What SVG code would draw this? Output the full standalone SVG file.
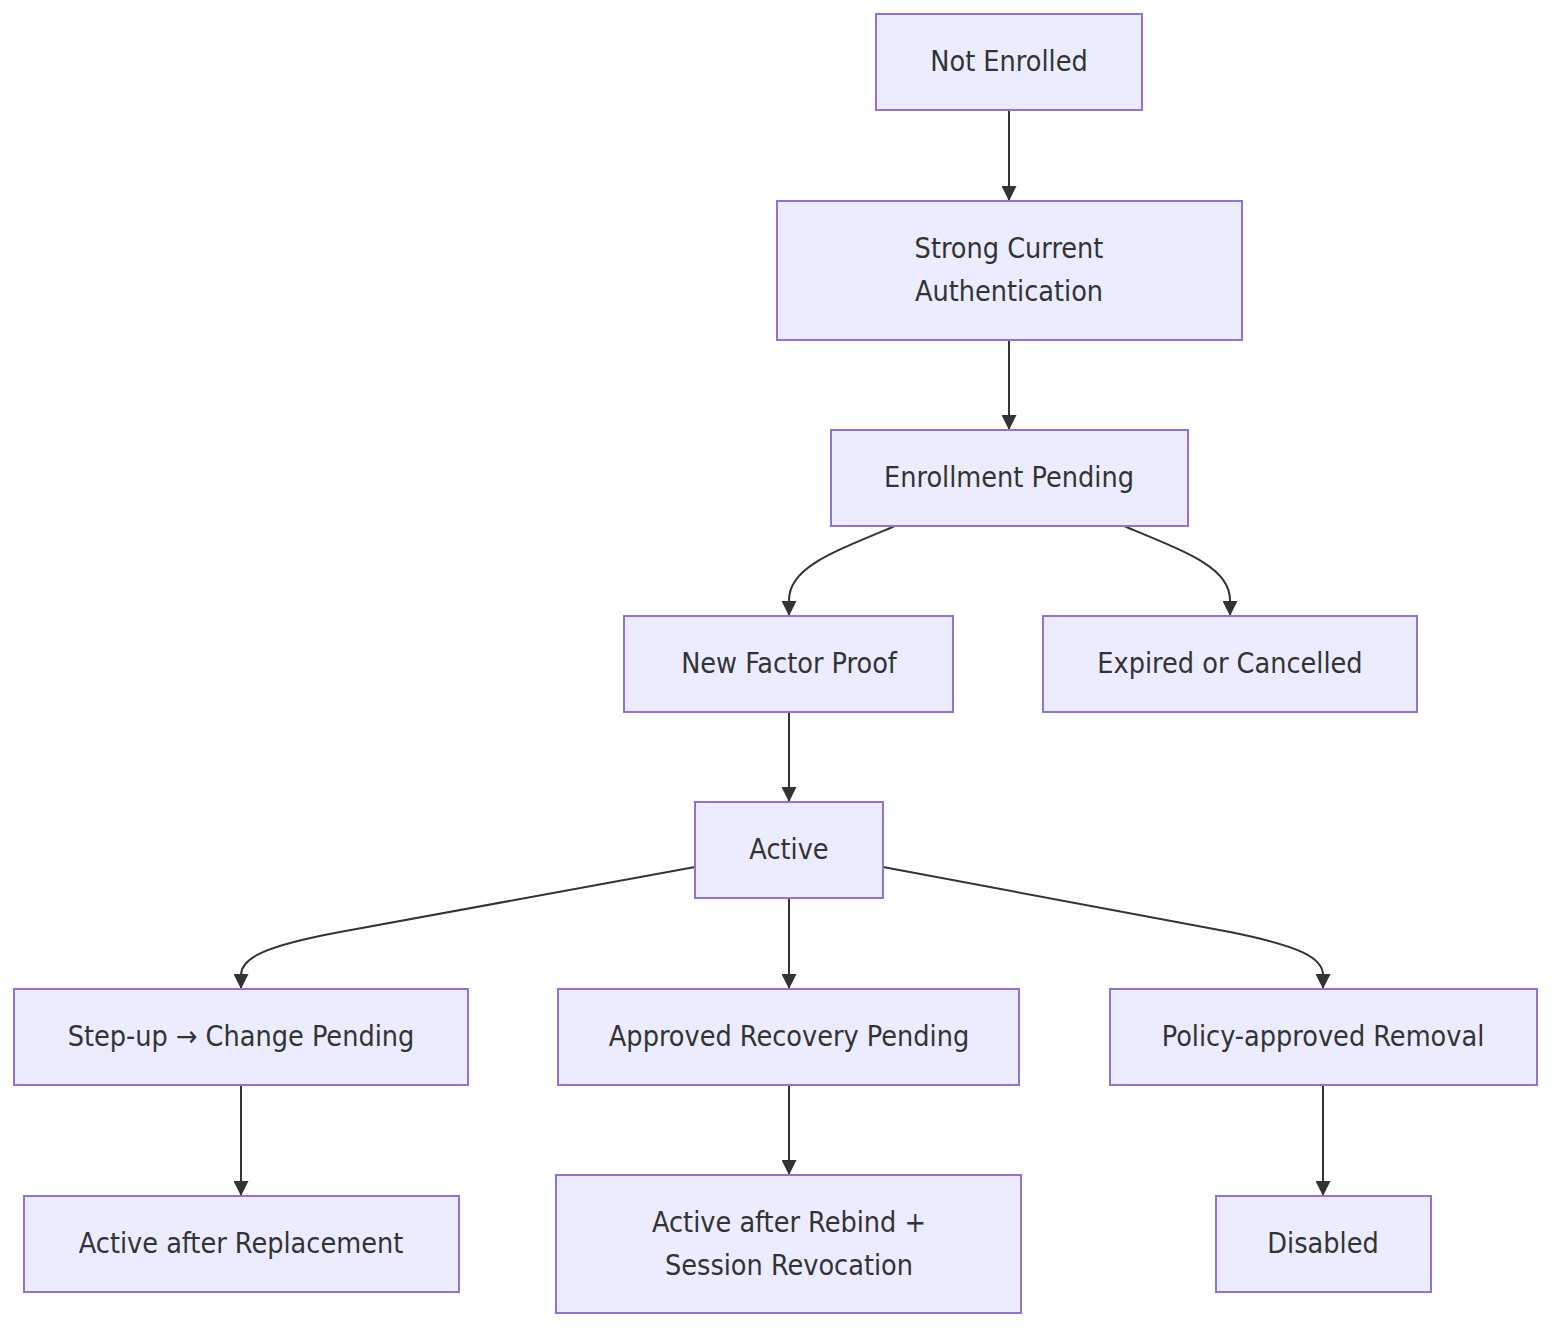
<svg xmlns="http://www.w3.org/2000/svg" width="1568" height="1344" viewBox="0 0 1568 1344">
<style>
.node rect{fill:#ECECFF;stroke:#9370DB;stroke-width:2}
.node text{font-family:"DejaVu Sans Condensed","DejaVu Sans",sans-serif;font-stretch:condensed;font-size:28.5px;fill:#333;text-anchor:middle;dominant-baseline:central}
.edge{fill:none;stroke:#333;stroke-width:2;marker-end:url(#arr)}
</style>
<defs>
<marker id="arr" markerUnits="userSpaceOnUse" markerWidth="15" markerHeight="15" refX="15" refY="7.5" orient="auto">
<path d="M0,0 L15,7.5 L0,15 z" fill="#333"/>
</marker>
</defs>
<rect width="1568" height="1344" fill="#fff"/>
<g id="edges">
<path class="edge" d="M1009,110 L1009,201"/>
<path class="edge" d="M1009,340 L1009,430"/>
<path class="edge" d="M895,526 C830,553 789,568 789,600 L789,616"/>
<path class="edge" d="M1124,526 C1189,553 1230,568 1230,600 L1230,616"/>
<path class="edge" d="M789,712 L789,802"/>
<path class="edge" d="M695,867 L340,932 C265,946 241,958 241,975 L241,989"/>
<path class="edge" d="M789,898 L789,989"/>
<path class="edge" d="M883,867 L1230,932 C1300,946 1323,958 1323,975 L1323,989"/>
<path class="edge" d="M241,1085 L241,1196"/>
<path class="edge" d="M789,1085 L789,1175"/>
<path class="edge" d="M1323,1085 L1323,1196"/>
</g>
<g id="n1" class="node"><rect x="876" y="14" width="266" height="96"/><text x="1009" y="61">Not Enrolled</text></g>
<g id="n2" class="node"><rect x="777" y="201" width="465" height="139"/><text x="1009" y="248">Strong Current</text><text x="1009" y="291">Authentication</text></g>
<g id="n3" class="node"><rect x="831" y="430" width="357" height="96"/><text x="1009" y="477">Enrollment Pending</text></g>
<g id="n4" class="node"><rect x="624" y="616" width="329" height="96"/><text x="789" y="663">New Factor Proof</text></g>
<g id="n5" class="node"><rect x="1043" y="616" width="374" height="96"/><text x="1230" y="663">Expired or Cancelled</text></g>
<g id="n6" class="node"><rect x="695" y="802" width="188" height="96"/><text x="789" y="849">Active</text></g>
<g id="n7" class="node"><rect x="14" y="989" width="454" height="96"/><text x="241" y="1036">Step-up → Change Pending</text></g>
<g id="n8" class="node"><rect x="558" y="989" width="461" height="96"/><text x="789" y="1036">Approved Recovery Pending</text></g>
<g id="n9" class="node"><rect x="1110" y="989" width="427" height="96"/><text x="1323" y="1036">Policy-approved Removal</text></g>
<g id="n10" class="node"><rect x="24" y="1196" width="435" height="96"/><text x="241" y="1243">Active after Replacement</text></g>
<g id="n11" class="node"><rect x="556" y="1175" width="465" height="138"/><text x="789" y="1222">Active after Rebind +</text><text x="789" y="1265">Session Revocation</text></g>
<g id="n12" class="node"><rect x="1216" y="1196" width="215" height="96"/><text x="1323" y="1243">Disabled</text></g>
</svg>
